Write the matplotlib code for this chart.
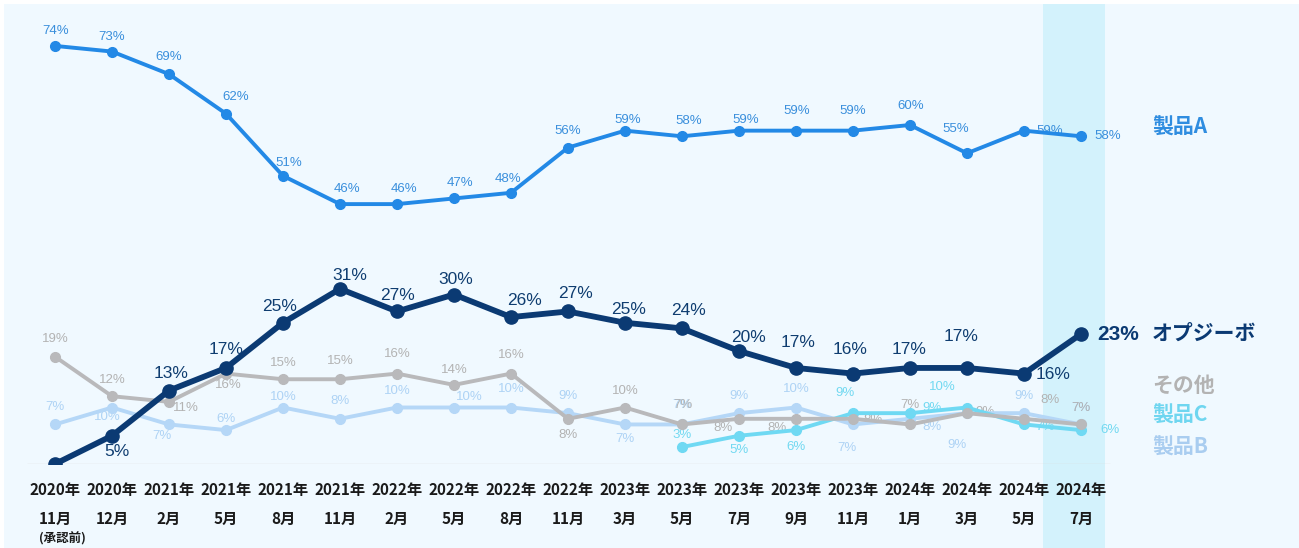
import matplotlib

matplotlib.use("Agg")
import matplotlib.pyplot as plt
from matplotlib.patches import Rectangle

plt.rcParams["font.family"] = ["Noto Sans CJK JP", "DejaVu Sans"]
NUM_FONT = ["Liberation Sans", "DejaVu Sans"]

YEARS = ["2020年", "2020年", "2021年", "2021年", "2021年", "2021年", "2022年", "2022年",
         "2022年", "2022年", "2023年", "2023年", "2023年", "2023年", "2023年", "2024年",
         "2024年", "2024年", "2024年"]
MONTHS = ["11月", "12月", "2月", "5月", "8月", "11月", "2月", "5月", "8月", "11月",
          "3月", "5月", "7月", "9月", "11月", "1月", "3月", "5月", "7月"]

product_a = [74, 73, 69, 62, 51, 46, 46, 47, 48, 56, 59, 58, 59, 59, 59, 60, 55, 59, 58]
opdivo = [0, 5, 13, 17, 25, 31, 27, 30, 26, 27, 25, 24, 20, 17, 16, 17, 17, 16, 23]
others = [19, 12, 11, 16, 15, 15, 16, 14, 16, 8, 10, 7, 8, 8, 8, 7, 9, 8, 7]
product_b = [7, 10, 7, 6, 10, 8, 10, 10, 10, 9, 7, 7, 9, 10, 7, 8, 9, 9, 7]
product_c = [None] * 11 + [3, 5, 6, 9, 9, 10, 7, 6]

# label offsets in pixels (dx, dy up); None = no label
OFF_A = [(1, 15), (0, 15), (0, 17), (10, 17), (6, 13), (7, 15), (7, 15), (6, 15), (-3, 14),
         (0, 17), (3, 11), (7, 15), (7, 11), (1, 20), (0, 20), (1, 19), (-11, 24), (26, 0),
         (27, 0)]
OFF_O = [None, (5, -16), (2, 17), (0, 18), (-3, 16), (10, 13), (0, 16), (2, 15), (13, 17),
         (7, 18), (4, 13), (6, 18), (9, 13), (2, 25), (-3, 24), (-1, 18), (-6, 31), (29, -1),
         None]
OFF_G = [(0, 18), (0, 16), (17, -6), (2, -11), (0, 16), (0, 18), (0, 20), (0, 15), (0, 19),
         (0, -16), (0, 17), (1, 19), (-16, -9), (-19, -9), (20, -1), (0, 19), (18, 1),
         (26, 19), (0, 16)]
OFF_B = [(0, 17), (-5, -10), (-7, -12), (0, 11), (0, 10), (0, 18), (0, 17), (15, 10),
         (0, 19), (0, 17), (0, -15), (0, 19), (0, 17), (0, 18), (-6, -24), (22, -8),
         (-10, -32), (0, 17), (0, 16)]
OFF_C = [None] * 11 + [(0, 12), (0, -14), (0, -17), (-8, 20), (22, 5), (-25, 21), (21, -3),
                       (29, 0)]

NAVY = "#0b3a73"
BLUE = "#2389e6"
GRAY = "#b9b9bb"
LIGHT = "#b5d7f7"
CYAN = "#6fd9f3"

PX_PER_UNIT_Y = 5.65
STEP = 57.0
X0 = 55.0
BASE = 464.0

fig = plt.figure(figsize=(12.99, 5.48), dpi=100)
fig.patch.set_facecolor("white")
fig.patches.append(Rectangle((4 / 1299, 0), 1, (548 - 4) / 548, transform=fig.transFigure,
                             facecolor="#f0f9ff", edgecolor="none", zorder=-10))

ax = fig.add_axes([0, (548 - BASE) / 548, 1, BASE / 548])
ax.set_facecolor("none")
ax.set_xlim(-X0 / STEP, (1299 - X0) / STEP)
ax.set_ylim(0, BASE / PX_PER_UNIT_Y)
for s in ax.spines.values():
    s.set_visible(False)
ax.tick_params(left=False, labelleft=False)

x = list(range(len(MONTHS)))

ax.axvspan(17.33, 18.42, ymin=-(548 - BASE) / BASE, ymax=(BASE - 4) / BASE,
           color="#d3f2fc", zorder=0, clip_on=False, lw=0)
ax.hlines(0, -0.49, 18.5, color="#dcdcdc", lw=1.0, zorder=0.5)


def draw(values, color, lw, ms, offsets, lab_color, fs, z):
    xs = [i for i, v in zip(x, values) if v is not None]
    ys = [v for v in values if v is not None]
    ax.plot(xs, ys, color=color, lw=lw, marker="o", ms=ms, zorder=z,
            solid_capstyle="round")
    for i, v in zip(xs, ys):
        off = offsets[i]
        if off is None:
            continue
        ax.annotate(f"{v}%", (i, v), xytext=off, textcoords="offset pixels",
                    ha="center", va="center", fontsize=fs, color=lab_color, zorder=1.5,
                    family=NUM_FONT)


draw(product_b, LIGHT, 2.8, 7, OFF_B, "#aed3f5", 9.5, 2)
draw(product_c, CYAN, 2.8, 7, OFF_C, "#72d9f1", 9.5, 2.2)
draw(others, GRAY, 2.8, 7, OFF_G, "#b3b3b3", 9.5, 2.4)
draw(product_a, BLUE, 2.8, 7, OFF_A, "#3a8fdc", 9.5, 2.6)
draw(opdivo, NAVY, 4.2, 9.5, OFF_O, "#0f3d70", 12.5, 3)

# last opdivo label is emphasised
ax.annotate(f"{opdivo[-1]}%", (x[-1], opdivo[-1]), xytext=(37, 0), textcoords="offset pixels",
            ha="center", va="center", fontsize=15, fontweight="bold", color=NAVY, zorder=1.5,
            family=NUM_FONT)

series_labels = [
    ("製品A", 59.65, "#2f8de0"),
    ("オプジーボ", 23.2, NAVY),
    ("その他", 14.0, "#b3b3b3"),
    ("製品C", 8.67, "#6fd6f0"),
    ("製品B", 3.0, "#a9cdf0"),
]
for text, yv, col in series_labels:
    ax.text((1152 - X0) / STEP, yv, text, ha="left", va="center", fontsize=15,
            fontweight="bold", color=col)

ax.set_xticks(x, labels=[f"{y}\n{m}" for y, m in zip(YEARS, MONTHS)])
ax.tick_params(axis="x", length=0, pad=13, labelsize=11, labelcolor="#1a1a1a")
for lbl in ax.get_xticklabels():
    lbl.set_fontweight("bold")
    lbl.set_linespacing(2.0)

ax.annotate("(承認前)", (0, 0), xytext=(7, -75), textcoords="offset pixels", ha="center",
            va="center", fontsize=9, fontweight="bold", color="#1a1a1a",
            annotation_clip=False)

fig.savefig("out.png", dpi=100, facecolor=fig.get_facecolor())
